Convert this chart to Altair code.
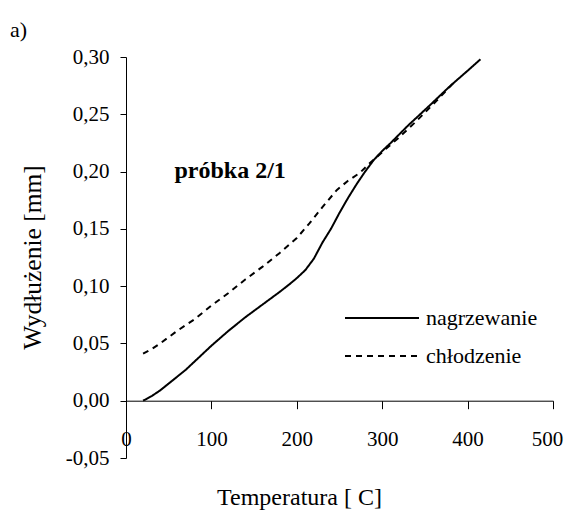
import altair as alt
import pandas as pd

# heating (nagrzewanie)
heat_T = [20, 30, 40, 50, 60, 70, 80, 90, 100, 120, 140, 160, 180, 192, 200, 210, 220,
          230, 240, 250, 260, 270, 280, 290, 300, 310, 330, 356, 380, 400, 415]
heat_y = [0.000, 0.004, 0.009, 0.015, 0.021, 0.027, 0.034, 0.041, 0.048, 0.061, 0.073,
          0.084, 0.095, 0.102, 0.107, 0.114, 0.124, 0.138, 0.150, 0.164, 0.177, 0.189,
          0.200, 0.210, 0.218, 0.225, 0.240, 0.258, 0.275, 0.288, 0.298]

# cooling (chłodzenie)
cool_T = [20, 30, 40, 60, 80, 100, 120, 140, 160, 180, 200, 215, 230, 247, 260, 274,
          285, 300, 320, 340, 360, 387]
cool_y = [0.041, 0.045, 0.050, 0.061, 0.071, 0.083, 0.094, 0.106, 0.117, 0.129, 0.142,
          0.155, 0.169, 0.184, 0.192, 0.199, 0.207, 0.217, 0.230, 0.244, 0.259, 0.280]

series_names = ["nagrzewanie", "chłodzenie"]
x_ticks = [0, 100, 200, 300, 400, 500]
y_ticks = [-0.05, 0.0, 0.05, 0.10, 0.15, 0.20, 0.25, 0.30]

label_T = [122]
label_y = [0.194]
label_txt = ["próbka 2/1"]

rows = []
for t, v in zip(heat_T, heat_y):
    rows.append({"T": t, "y": v, "seria": series_names[0]})
for t, v in zip(cool_T, cool_y):
    rows.append({"T": t, "y": v, "seria": series_names[1]})
df = pd.DataFrame(rows)
ann = pd.DataFrame({"T": label_T, "y": label_y, "txt": label_txt})

FONT = "Liberation Serif"

xscale = alt.Scale(domain=[0, 500], nice=False, zero=False)
yscale = alt.Scale(domain=[-0.05, 0.30], nice=False, zero=False)

ylabel = ("datum.value < 0 ? '-' + replace(format(-datum.value, '.2f'), '.', ',')"
          " : replace(format(datum.value, '.2f'), '.', ',')")

lines = alt.Chart(df).mark_line(color="black", strokeWidth=2).encode(
    x=alt.X("T:Q", scale=xscale,
            axis=alt.Axis(values=x_ticks, title="Temperatura [ C]", offset=-57.3,
                          tickSize=8, labelPadding=20, grid=False,
                          domainColor="black", tickColor="black",
                          labelFont=FONT, labelFontSize=21, labelColor="black",
                          labelOffset={"condition": {"test": "datum.value == 500", "value": -6},
                                       "value": 0},
                          titleFont=FONT, titleFontSize=24, titleFontWeight="normal",
                          titleColor="black", titleX=173, titleY=104,
                          titleBaseline="alphabetic", titleAlign="center",
                          labelFlush=False, labelOverlap=False)),
    y=alt.Y("y:Q", scale=yscale,
            axis=alt.Axis(values=y_ticks, title="Wydłużenie [mm]", labelExpr=ylabel,
                          tickSize=6, labelPadding=11, grid=False,
                          domainColor="black", tickColor="black",
                          labelFont=FONT, labelFontSize=21, labelColor="black",
                          titleFont=FONT, titleFontSize=25.5, titleFontWeight="normal",
                          titleColor="black", titleX=-86, titleY=200,
                          titleBaseline="alphabetic", titleAlign="center",
                          labelFlush=False, labelOverlap=False)),
    strokeDash=alt.StrokeDash("seria:N",
                              scale=alt.Scale(domain=series_names, range=[[1, 0], [6, 5]]),
                              legend=alt.Legend(orient="none", legendX=218, legendY=250,
                                                title=None, symbolType="stroke",
                                                symbolSize=5476, symbolStrokeWidth=2,
                                                symbolStrokeColor="black",
                                                labelFont=FONT, labelFontSize=22,
                                                labelColor="black", labelOffset=6,
                                                clipHeight=22, rowPadding=16, padding=0)),
    order=alt.Order("T:Q"),
)

text = alt.Chart(ann).mark_text(font=FONT, fontSize=24, fontWeight="bold", color="black",
                                align="center", baseline="alphabetic").encode(
    x=alt.X("T:Q", scale=xscale),
    y=alt.Y("y:Q", scale=yscale),
    text="txt:N",
)

chart = alt.layer(lines, text).properties(
    width=427, height=401,
    autosize=alt.AutoSizeParams(type="none"),
    padding={"left": 118, "top": 49, "right": 11, "bottom": 52},
    title=alt.Title("a)", anchor="start", frame="group", dx=-116, dy=13, offset=0,
                    baseline="alphabetic", font=FONT, fontSize=22,
                    fontWeight="normal", color="black"),
    background="white",
).configure(font=FONT).configure_view(stroke=None)

chart.save("out.html", embed_options={"renderer": "svg", "actions": False})
